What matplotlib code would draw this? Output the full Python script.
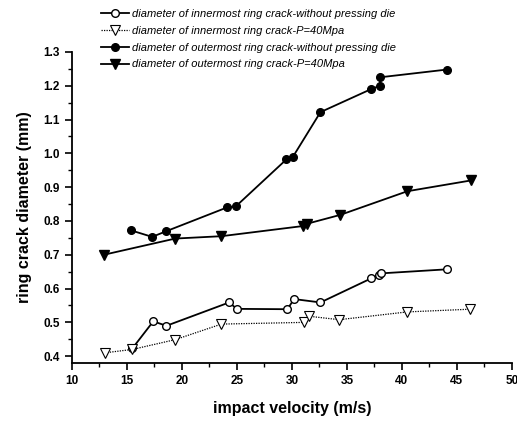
import numpy as np
import matplotlib.pyplot as plt
from matplotlib.ticker import MultipleLocator

plt.rcParams['font.family'] = ['Liberation Sans', 'DejaVu Sans']

# innermost ring crack, without pressing die
inner_free_v = [15.5, 17.4, 18.6, 24.3, 25.0, 29.6, 30.2, 32.6, 37.2, 37.9, 38.1, 44.1]
inner_free_d = [0.423, 0.503, 0.490, 0.559, 0.540, 0.539, 0.569, 0.559, 0.630, 0.640, 0.645, 0.657]

# innermost ring crack, P=40Mpa
inner_p40_v = [13.0, 15.5, 19.4, 23.6, 31.1, 31.6, 34.3, 40.5, 46.2]
inner_p40_d = [0.410, 0.420, 0.449, 0.495, 0.500, 0.518, 0.508, 0.531, 0.539]

# outermost ring crack, without pressing die
outer_free_v = [15.4, 17.3, 18.6, 24.1, 24.9, 29.5, 30.1, 32.6, 37.2, 38.0, 38.0, 44.1]
outer_free_d = [0.772, 0.753, 0.770, 0.840, 0.843, 0.982, 0.990, 1.122, 1.190, 1.200, 1.225, 1.248]

# outermost ring crack, P=40Mpa
outer_p40_v = [12.9, 19.4, 23.6, 31.0, 31.4, 34.4, 40.5, 46.3]
outer_p40_d = [0.700, 0.748, 0.755, 0.785, 0.792, 0.818, 0.888, 0.920]

labels = ['diameter of innermost ring crack-without pressing die',
          'diameter of innermost ring crack-P=40Mpa',
          'diameter of outermost ring crack-without pressing die',
          'diameter of outermost ring crack-P=40Mpa']

fig = plt.figure(figsize=(5.17, 4.26), dpi=100)
ax = fig.add_axes([0.139, 0.148, 0.851, 0.730])

ax.plot(inner_free_v, inner_free_d, color='black', lw=1.3, marker='o', ms=5.5,
        mfc='white', mec='black', mew=1.0, label=labels[0])
ax.plot(inner_p40_v, inner_p40_d, color='black', lw=0.9, ls=(0, (1, 1)), marker='v', ms=6.5,
        mfc='white', mec='black', mew=0.8, label=labels[1])
ax.plot(outer_free_v, outer_free_d, color='black', lw=1.3, marker='o', ms=5.5,
        mfc='black', mec='black', label=labels[2])
ax.plot(outer_p40_v, outer_p40_d, color='black', lw=1.3, marker='v', ms=7,
        mfc='black', mec='black', label=labels[3])

ax.set_xlim(10, 50)
ax.set_ylim(0.38, 1.3)
ax.xaxis.set_major_locator(MultipleLocator(5))
ax.xaxis.set_minor_locator(MultipleLocator(2.5))
ax.yaxis.set_major_locator(MultipleLocator(0.1))
ax.yaxis.set_minor_locator(MultipleLocator(0.05))
ax.yaxis.set_major_formatter(plt.FuncFormatter(lambda v, p: f'{v:.1f}'))

for side in ['top', 'right']:
    ax.spines[side].set_visible(False)
for side in ['left', 'bottom']:
    ax.spines[side].set_linewidth(1.3)

ax.tick_params(which='major', direction='out', length=5, width=1.2, labelsize=8.5)
ax.tick_params(which='minor', direction='out', length=3, width=1.0)
for t in ax.get_xticklabels() + ax.get_yticklabels():
    t.set_fontweight('bold')

ax.set_xlabel('impact velocity (m/s)', fontsize=11.5, fontweight='bold', labelpad=10)
ax.set_ylabel('ring crack diameter (mm)', fontsize=11.5, fontweight='bold', labelpad=8)

fig.legend(loc='upper left', bbox_to_anchor=(0.183, 0.995), frameon=False,
           handlelength=2.5, handletextpad=0.3, labelspacing=0.62,
           borderaxespad=0.2, prop={'style': 'italic', 'size': 8})

fig.savefig('out.png', dpi=100)
